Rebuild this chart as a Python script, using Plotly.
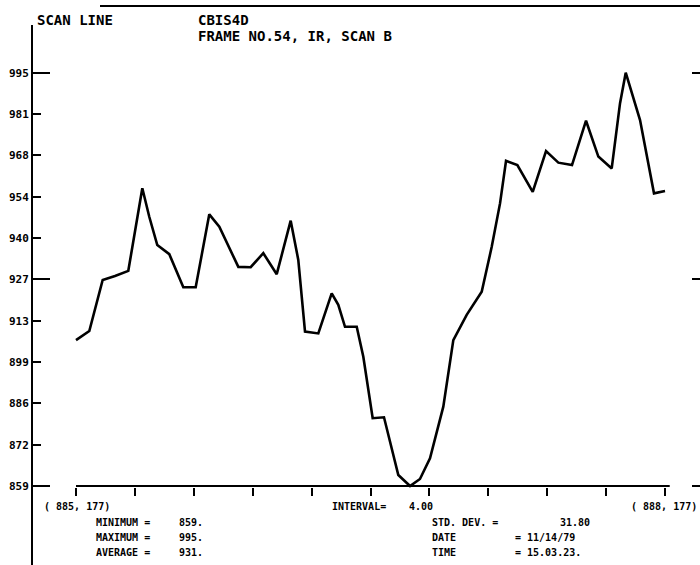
import plotly.graph_objects as go

# ---- data ----
x_pos = [0.000, 0.226, 0.453, 0.662, 0.888, 1.126, 1.244, 1.380, 1.584, 1.822, 2.032,
         2.263, 2.433, 2.615, 2.756, 2.966, 3.180, 3.408, 3.645, 3.774, 3.888, 4.114,
         4.341, 4.453, 4.567, 4.766, 4.878, 5.037, 5.229, 5.472, 5.671, 5.840, 6.010,
         6.236, 6.406, 6.633, 6.888, 7.058, 7.199, 7.301, 7.493, 7.754, 7.980, 8.189,
         8.421, 8.659, 8.868, 9.095, 9.236, 9.333, 9.576, 9.813, 10.000]
scan_vals = [907.0, 910.0, 926.8, 928.1, 929.8, 957.0, 947.6, 938.3, 935.3, 924.4, 924.4,
             948.4, 944.3, 936.7, 931.1, 931.0, 935.6, 928.7, 946.3, 933.4, 909.8, 909.2,
             922.4, 918.6, 911.4, 911.4, 901.5, 881.3, 881.6, 862.6, 859.0, 861.3, 868.1,
             885.1, 907.0, 915.3, 922.9, 937.7, 952.0, 966.0, 964.6, 955.8, 969.2, 965.4,
             964.6, 979.2, 967.4, 963.5, 984.9, 995.0, 979.4, 955.3, 956.1]

y_tickvals = [859.0, 872.6, 886.2, 899.8, 913.4, 927.0, 940.6, 954.2, 967.8, 981.4, 995.0]
y_ticktext = ["859", "872", "886", "899", "913", "927", "940", "954", "968", "981", "995"]
y_major = [859.0, 927.0, 995.0]
x_tickvals = [0, 1, 2, 3, 4, 5, 6, 7, 8, 9, 10]

title_left = "SCAN LINE"
title_id = "CBIS4D"
title_frame = "FRAME NO.54, IR, SCAN B"
stats_left = [("MINIMUM =", "859."), ("MAXIMUM =", "995."), ("AVERAGE =", "931.")]
stats_right = [("STD. DEV. =", "31.80"), ("DATE", "= 11/14/79"), ("TIME", "= 15.03.23.")]
start_label = "( 885, 177)"
end_label = "( 888, 177)"
interval_label = "INTERVAL="
interval_value = "4.00"

# ---- layout geometry ----
W, H = 700, 565
ML, MR, MT, MB = 33, 0, 25, 0
PW, PH = W - ML - MR, H - MT - MB
FONT = "DejaVu Sans Mono"


def px_x(px):
    return (px - ML) / PW


def px_y(py):
    return (H - MB - py) / PH


fig = go.Figure()
fig.add_trace(go.Scatter(x=x_pos, y=scan_vals, mode="lines",
                         line=dict(color="black", width=2.6), hoverinfo="skip",
                         showlegend=False))

yr = [833.0, 1010.7]
xr = [-0.730, 10.594]

fig.update_layout(
    width=W, height=H,
    margin=dict(l=ML, r=MR, t=MT, b=MB),
    paper_bgcolor="white", plot_bgcolor="white",
    showlegend=False,
    xaxis=dict(range=xr, anchor="free", position=px_y(486.5), showgrid=False,
               zeroline=False, showline=False, tickmode="array", tickvals=x_tickvals,
               ticks="outside", ticklen=8, tickwidth=2, tickcolor="black",
               showticklabels=False),
    yaxis=dict(range=yr, showgrid=False, zeroline=False, showline=True,
               linecolor="black", linewidth=2, tickmode="array", tickvals=y_tickvals,
               ticktext=y_ticktext, ticks="inside", ticklen=8, tickwidth=2,
               tickcolor="black",
               tickfont=dict(family=FONT, size=11, color="black", weight="bold")),
    yaxis2=dict(range=yr, overlaying="y", side="left", anchor="x", showgrid=False,
                zeroline=False, showline=False, tickmode="array", tickvals=y_major,
                ticks="inside", ticklen=17, tickwidth=2, tickcolor="black",
                showticklabels=False),
    yaxis3=dict(range=yr, overlaying="y", side="right", anchor="x", showgrid=False,
                zeroline=False, showline=False, tickmode="array", tickvals=y_major,
                ticks="inside", ticklen=8, tickwidth=2, tickcolor="black",
                showticklabels=False),
)
# dummy traces so overlay axes render
fig.add_trace(go.Scatter(x=[None], y=[None], yaxis="y2", showlegend=False))
fig.add_trace(go.Scatter(x=[None], y=[None], yaxis="y3", showlegend=False))

# baseline of the scan (from first to last sample)
fig.add_shape(type="line", xref="x", yref="y", x0=x_pos[0], x1=x_pos[-1] + 0.08,
              y0=min(scan_vals), y1=min(scan_vals), line=dict(color="black", width=2))
# top rule
fig.add_shape(type="line", xref="paper", yref="paper", x0=px_x(100), x1=px_x(700),
              y0=px_y(6), y1=px_y(6), line=dict(color="black", width=2))


def txt(s, px, py, size, anchor="left"):
    fig.add_annotation(text=s, x=px_x(px), y=px_y(py), xref="paper", yref="paper",
                       xanchor=anchor, yanchor="middle", showarrow=False,
                       font=dict(family=FONT, size=size, color="black", weight="bold"))


txt(title_left, 35, 20, 14)
txt(title_id, 196, 20, 14)
txt(title_frame, 196, 36, 14)

txt(start_label, 42, 506, 10)
txt(interval_label, 330, 506, 10)
txt(interval_value, 407, 506, 10)
txt(end_label, 699, 506, 10, anchor="right")

for i, (lab, val) in enumerate(stats_left):
    yy = 522 + 15 * i
    txt(lab, 94, yy, 10)
    txt(val, 177, yy, 10)
right_val_x = [558, 513, 513]
for i, (lab, val) in enumerate(stats_right):
    yy = 522 + 15 * i
    txt(lab, 430, yy, 10)
    txt(val, right_val_x[i], yy, 10)

fig.write_html("out.html",
               config={"displayModeBar": False},
               post_script="document.body.style.margin='0';"
                           "document.body.style.overflow='hidden';")
